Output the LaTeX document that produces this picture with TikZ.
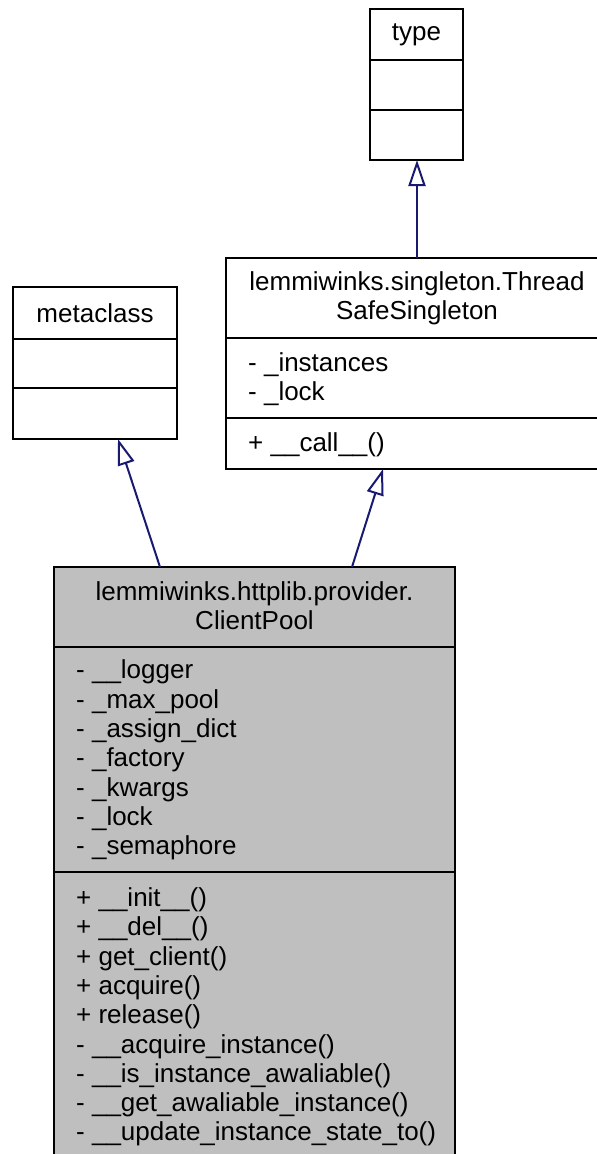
\documentclass[tikz,border=0pt]{standalone}
\usepackage{fontspec}
\setmainfont{Liberation Sans}
\usetikzlibrary{arrows.meta, positioning}
\definecolor{edgeblue}{HTML}{191970}
\definecolor{nodegray}{HTML}{BFBFBF}
\newcommand{\umlfont}{\fontsize{26}{29.3}\selectfont}

\begin{document}
\begin{tikzpicture}[x=1pt, y=-1pt,
  classbox/.style={draw, line width=2pt, inner sep=0pt, outer sep=0pt, anchor=north west},
  sep/.style={line width=2pt},
  title/.style={inner sep=0pt, align=center, font=\umlfont},
  members/.style={inner sep=0pt, anchor=west, align=left, font=\umlfont},
  inherit/.style={draw=edgeblue, line width=2pt,
                  -{Triangle[open, length=26pt, width=17pt, fill=white]}}]

  \useasboundingbox (0,0) rectangle (597,1154);
  \clip (0,0) rectangle (597,1154);

  \node[classbox, minimum width=93pt, minimum height=151pt] (type) at (370,9) {};
  \draw[sep] ([yshift=-51pt]type.north west) -- ([yshift=-51pt]type.north east);
  \draw[sep] ([yshift=-101pt]type.north west) -- ([yshift=-101pt]type.north east);
  \node[title] (typename) at (416.5,35) {type};

  \node[classbox, minimum width=164pt, minimum height=152pt] (meta) at (13,287) {};
  \draw[sep] ([yshift=-52pt]meta.north west) -- ([yshift=-52pt]meta.north east);
  \draw[sep] ([yshift=-101pt]meta.north west) -- ([yshift=-101pt]meta.north east);
  \node[title] (metaname) at (95,313) {metaclass};

  \node[classbox, minimum width=382pt, minimum height=211pt] (tss) at (226,258) {};
  \draw[sep] ([yshift=-80pt]tss.north west) -- ([yshift=-80pt]tss.north east);
  \draw[sep] ([yshift=-160pt]tss.north west) -- ([yshift=-160pt]tss.north east);
  \node[title] (tssname) at (417,298.5) {lemmiwinks.singleton.Thread\\SafeSingleton};
  \node[members] (tssattr) at (248,379.5) {- \_instances\\- \_lock};
  \node[members] (tssops) at (248,445) {+ \_\_call\_\_()};

  \node[classbox, fill=nodegray, minimum width=401pt, minimum height=590pt] (pool) at (54,567) {};
  \draw[sep] ([yshift=-80pt]pool.north west) -- ([yshift=-80pt]pool.north east);
  \draw[sep] ([yshift=-305pt]pool.north west) -- ([yshift=-305pt]pool.north east);
  \node[title] (poolname) at (254.5,606) {lemmiwinks.httplib.provider.\\ClientPool};
  \node[members] (poolattr) at (76,760) {- \_\_logger\\- \_max\_pool\\- \_assign\_dict\\- \_factory\\- \_kwargs\\- \_lock\\- \_semaphore};
  \node[members] (poolops) at (76,1017) {+ \_\_init\_\_()\\+ \_\_del\_\_()\\+ get\_client()\\+ acquire()\\+ release()\\- \_\_acquire\_instance()\\- \_\_is\_instance\_awaliable()\\- \_\_get\_awaliable\_instance()\\- \_\_update\_instance\_state\_to()};

  \draw[inherit] (tss.north) -- (tss.north |- type.south);
  \draw[inherit] ([xshift=-94.5pt]pool.north) -- ([xshift=23pt]meta.south);
  \draw[inherit] ([xshift=97.5pt]pool.north) -- ([xshift=-34pt]tss.south);
\end{tikzpicture}
\end{document}
